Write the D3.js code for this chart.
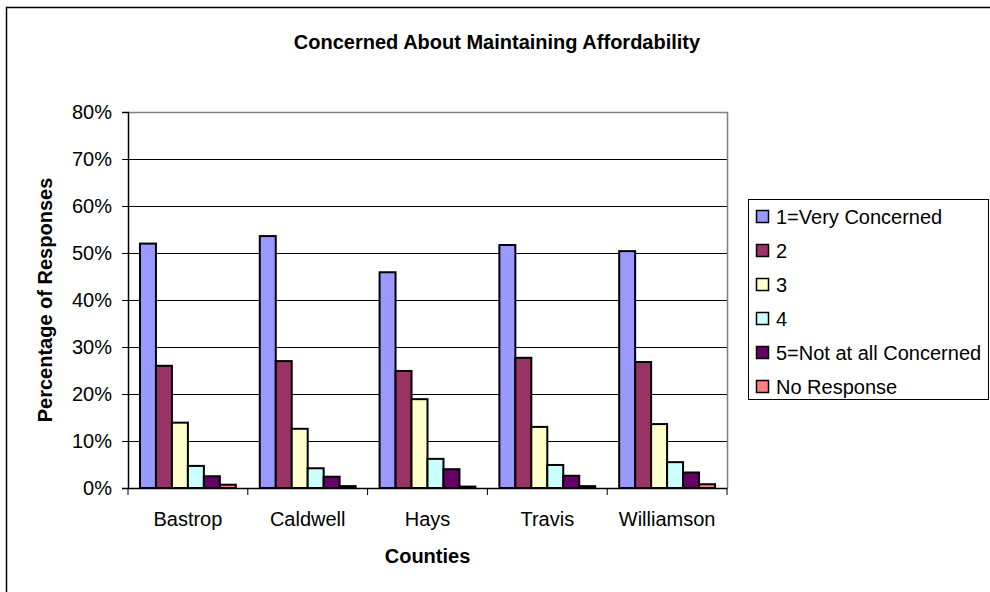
<!DOCTYPE html>
<html>
<head>
<meta charset="utf-8">
<script src="https://cdnjs.cloudflare.com/ajax/libs/d3/7.8.5/d3.min.js"></script>
<style>
  html, body { margin: 0; padding: 0; background: #fff; }
  svg { display: block; font-family: "Liberation Sans", Arial, sans-serif; }
</style>
</head>
<body>
<svg id="chart" width="990" height="592"></svg>
<script>
// Survey responses, percentage of respondents per county
const counties = ["Bastrop", "Caldwell", "Hays", "Travis", "Williamson"];
const seriesNames = ["1=Very Concerned", "2", "3", "4", "5=Not at all Concerned", "No Response"];
const veryConcerned   = [52.0, 53.6, 45.9, 51.7, 50.4];
const level2          = [26.0, 27.0, 24.9, 27.7, 26.8];
const level3          = [13.9, 12.6, 18.9, 13.0, 13.6];
const level4          = [4.7, 4.2, 6.2, 4.9, 5.5];
const notConcerned    = [2.5, 2.4, 4.0, 2.6, 3.3];
const noResponse      = [0.7, 0.4, 0.3, 0.4, 0.8];
const yTicks = [0, 10, 20, 30, 40, 50, 60, 70, 80];
const colors = ["#9999FF", "#993366", "#FFFFCC", "#CCFFFF", "#660066", "#FF8080"];

const seriesValues = [veryConcerned, level2, level3, level4, notConcerned, noResponse];

const svg = d3.select("#chart");

// outer chart frame
svg.append("rect")
  .attr("x", 6.5).attr("y", 7.5)
  .attr("width", 1000).attr("height", 700)
  .attr("fill", "none").attr("stroke", "#000").attr("stroke-width", 1.5);

const plot = { left: 128, right: 727, top: 112, bottom: 488 };

const x0 = d3.scaleBand().domain(counties).range([plot.left, plot.right]).paddingInner(0).paddingOuter(0);
const x1 = d3.scaleBand().domain(seriesNames).range([0, x0.bandwidth()]).paddingInner(0).paddingOuter(0.75);
const y = d3.scaleLinear().domain([0, 80]).range([plot.bottom, plot.top]);

// gridlines
svg.append("g")
  .selectAll("line")
  .data(yTicks.filter(t => t > 0 && t < 80))
  .join("line")
  .attr("x1", plot.left).attr("x2", plot.right)
  .attr("y1", d => Math.round(y(d)) + 0.5).attr("y2", d => Math.round(y(d)) + 0.5)
  .attr("stroke", "#000").attr("stroke-width", 1);

// plot area border (top and right)
svg.append("path")
  .attr("d", `M${plot.left},${plot.top + 0.5}H${plot.right + 0.5}V${plot.bottom}`)
  .attr("fill", "none").attr("stroke", "#808080").attr("stroke-width", 1.5);

// bars
const groups = svg.append("g")
  .selectAll("g")
  .data(counties)
  .join("g")
  .attr("transform", d => `translate(${x0(d)},0)`);

groups.selectAll("rect")
  .data((c, ci) => seriesNames.map((s, si) => ({ s, si, v: seriesValues[si][ci] })))
  .join("rect")
  .attr("x", d => x1(d.s))
  .attr("width", x1.bandwidth())
  .attr("y", d => y(d.v))
  .attr("height", d => y(0) - y(d.v))
  .attr("fill", d => colors[d.si])
  .attr("stroke", "#000")
  .attr("stroke-width", 2);

// y axis
const yAxis = svg.append("g")
  .attr("transform", `translate(${plot.left},0)`)
  .call(d3.axisLeft(y).tickValues(yTicks).tickFormat(d => d + "%").tickSize(6).tickPadding(10));
yAxis.select(".domain").attr("stroke", "#000").attr("stroke-width", 1.5);
yAxis.selectAll(".tick line").attr("stroke", "#000");
yAxis.selectAll("text").attr("font-size", 20).attr("fill", "#000")
  .attr("font-family", "Liberation Sans, Arial, sans-serif");

// x axis with ticks at category boundaries
const xAxis = svg.append("g")
  .attr("transform", `translate(0,${plot.bottom})`)
  .call(d3.axisBottom(x0).tickSize(0).tickPadding(24));
xAxis.select(".domain").attr("stroke", "#000").attr("stroke-width", 1.5);
xAxis.selectAll("text").attr("font-size", 20).attr("fill", "#000")
  .attr("font-family", "Liberation Sans, Arial, sans-serif");
xAxis.append("g")
  .selectAll("line")
  .data(counties.map(c => x0(c)).concat([plot.right]))
  .join("line")
  .attr("x1", d => d).attr("x2", d => d)
  .attr("y1", 0).attr("y2", 7)
  .attr("stroke", "#000");

// titles
svg.append("text")
  .attr("x", 497).attr("y", 49)
  .attr("text-anchor", "middle")
  .attr("font-size", 20).attr("font-weight", "bold")
  .text("Concerned About Maintaining Affordability");

svg.append("text")
  .attr("x", (plot.left + plot.right) / 2).attr("y", 563)
  .attr("text-anchor", "middle")
  .attr("font-size", 20).attr("font-weight", "bold")
  .text("Counties");

svg.append("text")
  .attr("transform", `translate(52,${(plot.top + plot.bottom) / 2}) rotate(-90)`)
  .attr("text-anchor", "middle")
  .attr("font-size", 20).attr("font-weight", "bold")
  .text("Percentage of Responses");

// legend
const legend = svg.append("g");
legend.append("rect")
  .attr("x", 748.5).attr("y", 199.5)
  .attr("width", 240).attr("height", 200)
  .attr("fill", "#fff").attr("stroke", "#000").attr("stroke-width", 1);

const items = legend.selectAll("g.item")
  .data(seriesNames)
  .join("g")
  .attr("class", "item")
  .attr("transform", (d, i) => `translate(756,${217 + i * 34})`);

items.append("rect")
  .attr("x", 0.5).attr("y", -6.5)
  .attr("width", 12).attr("height", 12)
  .attr("fill", (d, i) => colors[i])
  .attr("stroke", "#000").attr("stroke-width", 1.5);

items.append("text")
  .attr("x", 20).attr("y", 7)
  .attr("font-size", 20)
  .text(d => d);
</script>
</body>
</html>
